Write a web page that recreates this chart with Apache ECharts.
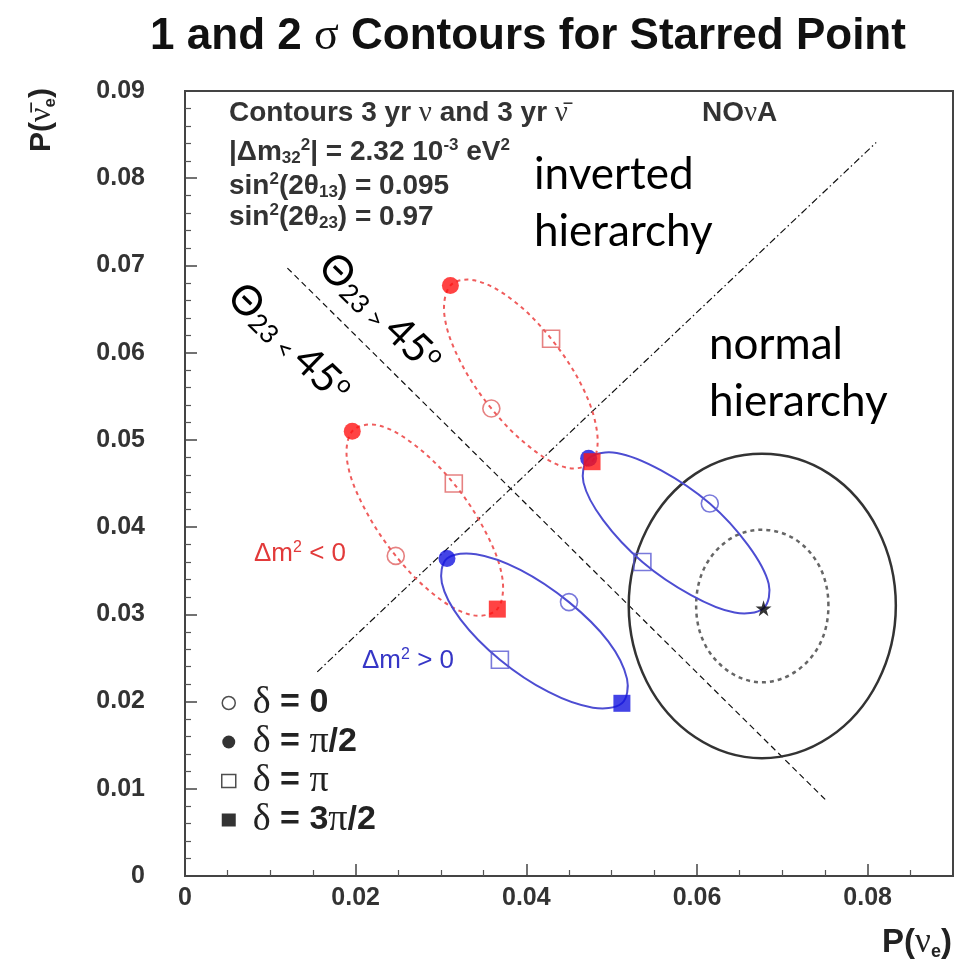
<!DOCTYPE html>
<html>
<head>
<meta charset="utf-8">
<title>1 and 2 σ Contours for Starred Point</title>
<script src="https://cdn.jsdelivr.net/npm/echarts@6.0.0/dist/echarts.min.js"></script>
<style>
  html, body { margin: 0; padding: 0; background: #fff; }
  #chart { width: 961px; height: 968px; }
</style>
</head>
<body>
<div id="chart"></div>
<script>
// bi-probability ellipses, one point every 30 deg of delta (0, 30, ..., 330)
// so index 0 -> delta=0, 3 -> pi/2, 6 -> pi, 9 -> 3pi/2
const redUpper = [[0.0359,0.0536],[0.0322,0.0591],[0.0304,0.0643],[0.0311,0.0677],[0.0339,0.0683],[0.0383,0.0661],
                  [0.0429,0.0616],[0.0466,0.0560],[0.0483,0.0508],[0.0477,0.0475],[0.0448,0.0468],[0.0405,0.0491]];
const redLower = [[0.0247,0.0367],[0.0209,0.0424],[0.0190,0.0476],[0.0196,0.0510],[0.0225,0.0517],[0.0268,0.0495],
                  [0.0315,0.0450],[0.0353,0.0393],[0.0372,0.0341],[0.0366,0.0306],[0.0337,0.0299],[0.0294,0.0321]];
const blueUpper = [[0.0615,0.0427],[0.0558,0.0465],[0.0506,0.0485],[0.0473,0.0479],[0.0467,0.0451],[0.0490,0.0408],
                   [0.0536,0.0360],[0.0593,0.0322],[0.0644,0.0302],[0.0678,0.0307],[0.0684,0.0335],[0.0660,0.0379]];
const blueLower = [[0.0450,0.0314],[0.0393,0.0351],[0.0341,0.0369],[0.0307,0.0364],[0.0301,0.0336],[0.0323,0.0294],
                   [0.0369,0.0248],[0.0426,0.0211],[0.0478,0.0193],[0.0512,0.0198],[0.0518,0.0226],[0.0496,0.0269]];

// 1 and 2 sigma contours round the starred point
const sigma2 = [[0.0833,0.0310],[0.0812,0.0397],[0.0755,0.0461],[0.0676,0.0484],[0.0598,0.0461],[0.0541,0.0397],
                [0.0520,0.0310],[0.0541,0.0223],[0.0598,0.0159],[0.0676,0.0135],[0.0755,0.0159],[0.0812,0.0223]];
const sigma1 = [[0.0754,0.0310],[0.0744,0.0354],[0.0715,0.0386],[0.0676,0.0397],[0.0638,0.0386],[0.0609,0.0354],
                [0.0599,0.0310],[0.0609,0.0266],[0.0638,0.0234],[0.0676,0.0222],[0.0715,0.0234],[0.0744,0.0266]];

// divider lines
const hierarchyLine = [[0.0155,0.0234],[0.0810,0.0841]];
const octantLine = [[0.0120,0.0697],[0.0751,0.0087]];

const deltaNames = ['δ = 0', 'δ = π/2', 'δ = π', 'δ = 3π/2'];

const RED_LINE = '#ef5c5c', RED = '#ff1414', RED_OPEN = '#e06262';
const BLUE_LINE = '#4d4dd2', BLUE = '#1414e0', BLUE_OPEN = '#5858d2';

const chart = echarts.init(document.getElementById('chart'));

function curve(pts, color, width, dash) {
  return {
    type: 'custom', data: pts, encode: { x: 0, y: 1 }, z: 2, silent: true,
    renderItem: function (params, api) {
      if (params.dataIndex !== 0) return null;
      return {
        type: 'polygon',
        shape: { points: pts.map(p => api.coord(p)), smooth: 0.35 },
        style: { fill: 'none', stroke: color, lineWidth: width, lineDash: dash }
      };
    }
  };
}

function straight(pts, dash) {
  return {
    type: 'line', data: pts, symbol: 'none', silent: true, z: 1,
    lineStyle: { color: '#111', width: 1.2, type: dash }
  };
}

const openR = { color: 'rgba(0,0,0,0)', borderColor: RED_OPEN, borderWidth: 1.6 };
const openB = { color: 'rgba(0,0,0,0)', borderColor: BLUE_OPEN, borderWidth: 1.6 };
const fillR = { color: RED, borderWidth: 0 };
const fillB = { color: BLUE, borderWidth: 0 };

function markers(name, symbol, items) {
  return {
    type: 'scatter', name: name, symbol: symbol, symbolSize: 17, z: 5, silent: true,
    itemStyle: { color: '#000' },
    data: items.map(it => ({ value: it[0], itemStyle: it[1] }))
  };
}

// rich styles for graphic texts (zrender wants fill, not color)
const b = { fontFamily: 'Liberation Sans', fontWeight: 'bold', fontSize: 28, lineHeight: 30, fill: '#333' };
const boxRich = {
  b: b,
  g: { fontFamily: 'Liberation Serif', fontSize: 29, lineHeight: 30, fill: '#333' },
  bs: Object.assign({}, b, { fontSize: 17, lineHeight: 8, verticalAlign: 'bottom' }),
  bp: Object.assign({}, b, { fontSize: 17, lineHeight: 12, verticalAlign: 'top' })
};

function boxText(x, y, text) {
  return { type: 'text', x: x, y: y, silent: true,
    style: { text: text, rich: boxRich, align: 'left', verticalAlign: 'middle' } };
}

function bigText(x, y, text) {
  return { type: 'text', x: x, y: y, silent: true,
    style: { text: text, align: 'left', verticalAlign: 'middle', fontFamily: 'Lato', fontSize: 44, fill: '#000' } };
}

const rotRich = {
  t: { fontFamily: 'Lato', fontSize: 41, lineHeight: 42, fill: '#000' },
  s: { fontFamily: 'Lato', fontSize: 26, lineHeight: 12, verticalAlign: 'bottom', fill: '#000' },
  o: { fontFamily: 'Lato', fontSize: 24, lineHeight: 10, verticalAlign: 'top', fill: '#000' }
};

const dmRich = (c) => ({
  a: { fontFamily: 'Liberation Sans', fontSize: 26, lineHeight: 28, fill: c },
  u: { fontFamily: 'Liberation Sans', fontSize: 16, lineHeight: 10, verticalAlign: 'top', fill: c }
});

const axisRich = (size) => ({
  b: { fontFamily: 'Liberation Sans', fontWeight: 'bold', fontSize: size, lineHeight: size + 4, fill: '#222' },
  g: { fontFamily: 'Liberation Serif', fontSize: size + 2, lineHeight: size + 4, fill: '#222' },
  s: { fontFamily: 'Liberation Sans', fontWeight: 'bold', fontSize: Math.round(size * 0.55), lineHeight: 6,
       verticalAlign: 'bottom', fill: '#222' }
});

const tickLabel = { fontSize: 25, fontWeight: 'bold', color: '#333', fontFamily: 'Liberation Sans' };

const option = {
  animation: false,
  backgroundColor: '#fff',
  grid: { left: 185, right: 8, top: 91, bottom: 92, show: true, borderColor: '#444', borderWidth: 2,
          containLabel: false, outerBoundsMode: 'none' },
  xAxis: {
    type: 'value', min: 0, max: 0.09, interval: 0.02,
    axisLine: { show: true, onZero: false, lineStyle: { color: '#444', width: 2 } },
    axisTick: { show: true, inside: true, length: 12, lineStyle: { color: '#444', width: 1.5 } },
    minorTick: { show: true, splitNumber: 4, length: 6, lineStyle: { color: '#555', width: 1.2 } },
    splitLine: { show: false },
    axisLabel: Object.assign({ showMaxLabel: false, margin: 10 }, tickLabel)
  },
  yAxis: {
    type: 'value', min: 0, max: 0.09, interval: 0.01,
    axisLine: { show: true, onZero: false, lineStyle: { color: '#444', width: 2 } },
    axisTick: { show: true, inside: true, length: 12, lineStyle: { color: '#444', width: 1.5 } },
    minorTick: { show: true, splitNumber: 5, length: 6, lineStyle: { color: '#555', width: 1.2 } },
    splitLine: { show: false },
    axisLabel: Object.assign({ margin: 40 }, tickLabel)
  },
  legend: {
    orient: 'vertical', left: 216, top: 679, itemWidth: 14, itemHeight: 13, itemGap: 1,
    selectedMode: false,
    data: [
      { name: deltaNames[0], icon: 'circle', itemStyle: { color: '#fff', borderColor: '#222', borderWidth: 1.5 } },
      { name: deltaNames[1], icon: 'circle', itemStyle: { color: '#000', borderWidth: 0 } },
      { name: deltaNames[2], icon: 'rect', itemStyle: { color: '#fff', borderColor: '#222', borderWidth: 1.5 } },
      { name: deltaNames[3], icon: 'rect', itemStyle: { color: '#000', borderWidth: 0 } }
    ],
    formatter: name => '{sp|}' + name.replace(/([δπ])/g, '{g|$1}'),
    textStyle: {
      fontFamily: 'Liberation Sans', fontWeight: 'bold', fontSize: 34, lineHeight: 36, color: '#222',
      rich: {
        sp: { width: 12 },
        g: { fontFamily: 'Liberation Serif', fontWeight: 'normal', fontSize: 38, lineHeight: 36, color: '#222' }
      }
    }
  },
  series: [
    straight(hierarchyLine, [7, 3, 1.5, 3]),
    straight(octantLine, [6, 4]),
    curve(sigma2, '#333', 2.5, null),
    curve(sigma1, '#666', 2.5, [4, 4]),
    curve(redUpper, RED_LINE, 2, [4, 4]),
    curve(redLower, RED_LINE, 2, [4, 4]),
    curve(blueUpper, BLUE_LINE, 2, null),
    curve(blueLower, BLUE_LINE, 2, null),
    markers(deltaNames[0], 'circle', [[redUpper[0], openR], [redLower[0], openR], [blueUpper[0], openB], [blueLower[0], openB]]),
    markers(deltaNames[1], 'circle', [[redUpper[3], fillR], [redLower[3], fillR], [blueUpper[3], fillB], [blueLower[3], fillB]]),
    markers(deltaNames[2], 'rect', [[redUpper[6], openR], [redLower[6], openR], [blueUpper[6], openB], [blueLower[6], openB]]),
    markers(deltaNames[3], 'rect', [[redUpper[9], fillR], [redLower[9], fillR], [blueLower[9], fillB]]),
    {
      type: 'scatter', z: 6, silent: true, symbolSize: 16,
      symbol: 'path://M50,0 L61,35 L98,35 L68,57 L79,91 L50,70 L21,91 L32,57 L2,35 L39,35 Z',
      itemStyle: { color: '#000' },
      data: [blueUpper[9]]
    }
  ],
  graphic: [
    { type: 'text', x: 528, y: 37, silent: true,
      style: { text: '{a|1 and 2 }{s|σ}{a| Contours for Starred Point}', align: 'center', verticalAlign: 'middle',
        rich: { a: { fontFamily: 'Liberation Sans', fontWeight: 'bold', fontSize: 44, fill: '#111' },
                s: { fontFamily: 'Liberation Serif', fontSize: 46, fill: '#111' } } } },
    boxText(229, 113, '{b|Contours 3 yr }{g|ν}{b| and 3 yr }{g|ν̄}'),
    boxText(229, 152, '{b||Δm}{bs|32}{bp|2}{b|| = 2.32 10}{bp|-3}{b| eV}{bp|2}'),
    boxText(229, 186, '{b|sin}{bp|2}{b|(2θ}{bs|13}{b|) = 0.095}'),
    boxText(229, 217, '{b|sin}{bp|2}{b|(2θ}{bs|23}{b|) = 0.97}'),
    boxText(702, 113, '{b|NO}{g|ν}{b|A}'),
    bigText(534, 175, 'inverted'),
    bigText(534, 232, 'hierarchy'),
    bigText(709, 345, 'normal'),
    bigText(709, 402, 'hierarchy'),
    { type: 'text', x: 380, y: 313, rotation: -0.77, silent: true,
      style: { text: '{t|Θ}{s|23 > }{t|45}{o|o}', rich: rotRich, align: 'center', verticalAlign: 'middle' } },
    { type: 'text', x: 289, y: 343, rotation: -0.77, silent: true,
      style: { text: '{t|Θ}{s|23 < }{t|45}{o|o}', rich: rotRich, align: 'center', verticalAlign: 'middle' } },
    { type: 'text', x: 254, y: 554, silent: true,
      style: { text: '{a|Δm}{u|2}{a| < 0}', rich: dmRich('#e23a3a'), align: 'left', verticalAlign: 'middle' } },
    { type: 'text', x: 362, y: 661, silent: true,
      style: { text: '{a|Δm}{u|2}{a| > 0}', rich: dmRich('#3636c6'), align: 'left', verticalAlign: 'middle' } },
    { type: 'text', x: 42, y: 120, rotation: Math.PI / 2, silent: true,
      style: { text: '{b|P(}{g|ν̄}{s|e}{b|)}', rich: axisRich(30), align: 'center', verticalAlign: 'middle' } },
    { type: 'text', x: 917, y: 943, silent: true,
      style: { text: '{b|P(}{g|ν}{s|e}{b|)}', rich: axisRich(33), align: 'center', verticalAlign: 'middle' } }
  ]
};

chart.setOption(option);
</script>
</body>
</html>
